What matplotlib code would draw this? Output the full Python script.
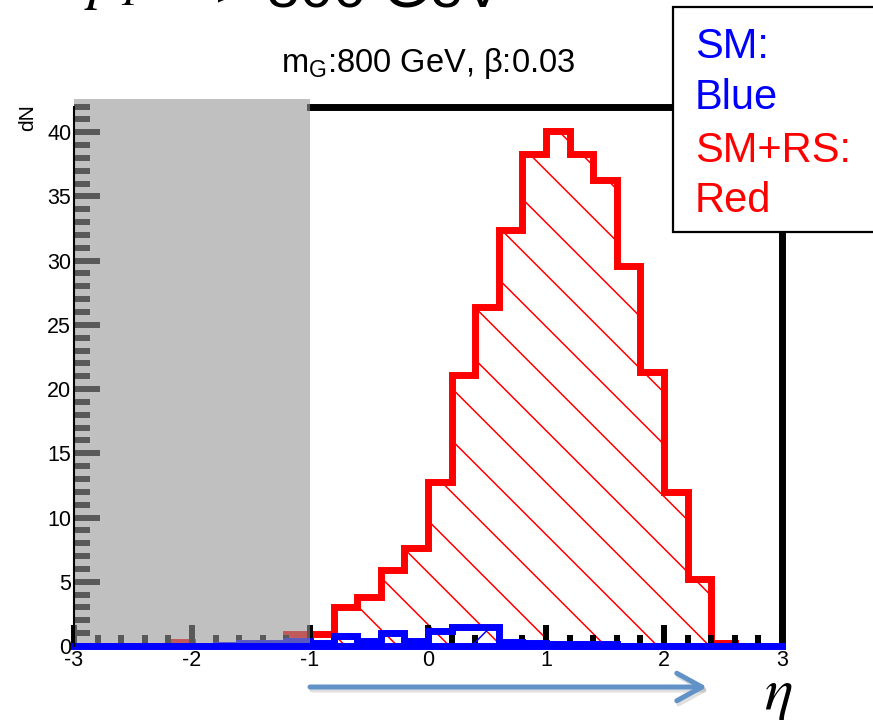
import numpy as np
import matplotlib
matplotlib.use("Agg")
import matplotlib.pyplot as plt
from matplotlib.patches import Rectangle, FancyArrowPatch
from matplotlib.collections import LineCollection

plt.rcParams['font.family'] = ['Liberation Sans', 'DejaVu Sans']
plt.rcParams['axes.unicode_minus'] = False

# eta bins, 30 bins of 0.2 from -3 to 3
edges = np.linspace(-3, 3, 31)
sm_rs = [0, 0, 0, 0, 0.3, 0, 0, 0, 0, 0.9,
         0.9, 3.0, 3.8, 5.9, 7.6, 12.8, 21.1, 26.4, 32.4, 38.3,
         40.1, 38.3, 36.3, 29.6, 21.3, 12.0, 5.2, 0.2, 0, 0]
sm = [0, 0, 0, 0, 0, 0, 0.1, 0.25, 0.25, 0.4,
      0.25, 0.75, 0.4, 1.05, 0.4, 1.15, 1.45, 1.45, 0.35, 0.2,
      0.15, 0.15, 0.15, 0, 0, 0, 0, 0, 0, 0]
xticks = [-3, -2, -1, 0, 1, 2, 3]
yticks = [0, 5, 10, 15, 20, 25, 30, 35, 40]
cut_lo, cut_hi = -3, -1   # grayed-out region

W, H = 873, 720
fig = plt.figure(figsize=(W / 100, H / 100), dpi=100)
ax = fig.add_axes([74 / W, (H - 646) / H, 708 / W, 539.5 / H])
ax.set_xlim(-3, 3)
ax.set_ylim(0, 42)
ax.set_axisbelow(False)

z_h = {'red': 1.8, 'blue': 2.8}


def hatch(patch, color, down, phase, step=52):
    # sparse 45 deg hatch lines in pixel space, clipped to the histogram
    pw = ax.get_position().width * W
    ph = ax.get_position().height * H
    segs = []
    for c in np.arange(phase - ph - step * 2, pw + ph, step):
        if down:
            segs.append([(c / pw, 1), ((c + ph) / pw, 0)])
        else:
            segs.append([(c / pw, 0), ((c + ph) / pw, 1)])
    lc = LineCollection(segs, colors=color, linewidths=1.1,
                        transform=ax.transAxes, zorder=z_h[color])
    lc.set_clip_path(patch)
    ax.add_collection(lc, autolim=False)


red_fill = ax.stairs(sm_rs, edges, fill=True, facecolor='none', linewidth=0)
hatch(red_fill, 'red', True, 11.5)
ax.stairs(sm_rs, edges, baseline=0, color='red', linewidth=5, zorder=2)

blue_fill = ax.stairs(sm, edges, fill=True, facecolor='none', linewidth=0)
hatch(blue_fill, 'blue', False, 1)
ax.stairs(sm, edges, baseline=0, color='blue', linewidth=5, zorder=3)

ax.add_patch(Rectangle((cut_lo, 0), cut_hi - cut_lo, 42.6, facecolor=(150 / 255, 150 / 255, 150 / 255),
                       alpha=0.6, edgecolor='none', zorder=4, clip_on=False))
ax.axhline(0, color='blue', linewidth=5, zorder=5, clip_on=False)

ax.set_xticks(xticks)
ax.set_xticks(np.arange(-3, 3.01, 0.2), minor=True)
ax.set_yticks(yticks)
ax.set_yticks(np.arange(0, 42.1, 1), minor=True)
ax.tick_params(axis='both', which='both', direction='in', labelsize=15.5, width=4.3, colors='black')
ax.tick_params(axis='y', which='major', length=18.7, pad=2)
ax.tick_params(axis='y', which='minor', length=11.5)
ax.tick_params(axis='x', which='major', length=15, pad=3)
ax.tick_params(axis='x', which='minor', length=8)

for s in ['top', 'right']:
    ax.spines[s].set_linewidth(5)
ax.spines['top'].set_bounds(cut_hi, 3)
ax.spines['left'].set_linewidth(1.5)
ax.spines['left'].set_zorder(6)
ax.spines['bottom'].set_linewidth(2)

fig.text(28 / W, 1 - 118 / H, 'dN', rotation=90, fontsize=15, ha='center', va='center')
fig.text(428 / W, 1 - 72 / H, r'm$_\mathregular{G}$:800 GeV, β:0.03', fontsize=23.5,
         ha='center', va='baseline')

# big heading, mostly cut off at the top of the slide
fig.text(84 / W, 1 + 3 / H, r'$p_T$', math_fontfamily='stix', fontsize=43, va='baseline')
fig.text(215 / W, 1 - 8 / H, '> 800 GeV', fontsize=43, va='baseline')

# legend box
fig.add_artist(Rectangle((673 / W, 1 - 232 / H), 0.3, 225 / H, transform=fig.transFigure,
                         facecolor='white', edgecolor='black', linewidth=1.6, zorder=10))
for txt, col, yb in [('SM:', 'blue', 58), ('Blue', 'blue', 109),
                     ('SM+RS:', 'red', 162), ('Red', 'red', 212)]:
    fig.text(695 / W, 1 - yb / H, txt, color=col, fontsize=30, va='baseline', zorder=11)

# arrow under the x axis
for dx, dy, col, a in [(2, -3, 'gray', 0.25), (0, 0, '#6092c8', 1.0)]:
    fig.add_artist(FancyArrowPatch(((310 + dx) / W, 1 - (687 - dy) / H), ((707 + dx) / W, 1 - (687 - dy) / H),
                                   transform=fig.transFigure, arrowstyle='->,head_length=1.0,head_width=0.55',
                                   mutation_scale=18, linewidth=3.6, color=col, alpha=a,
                                   shrinkA=0, shrinkB=0))
fig.text(778 / W, 1 - 709 / H, r'$\eta$', math_fontfamily='stix', fontsize=43, ha='center', va='baseline')

fig.savefig('out.png', dpi=100)
